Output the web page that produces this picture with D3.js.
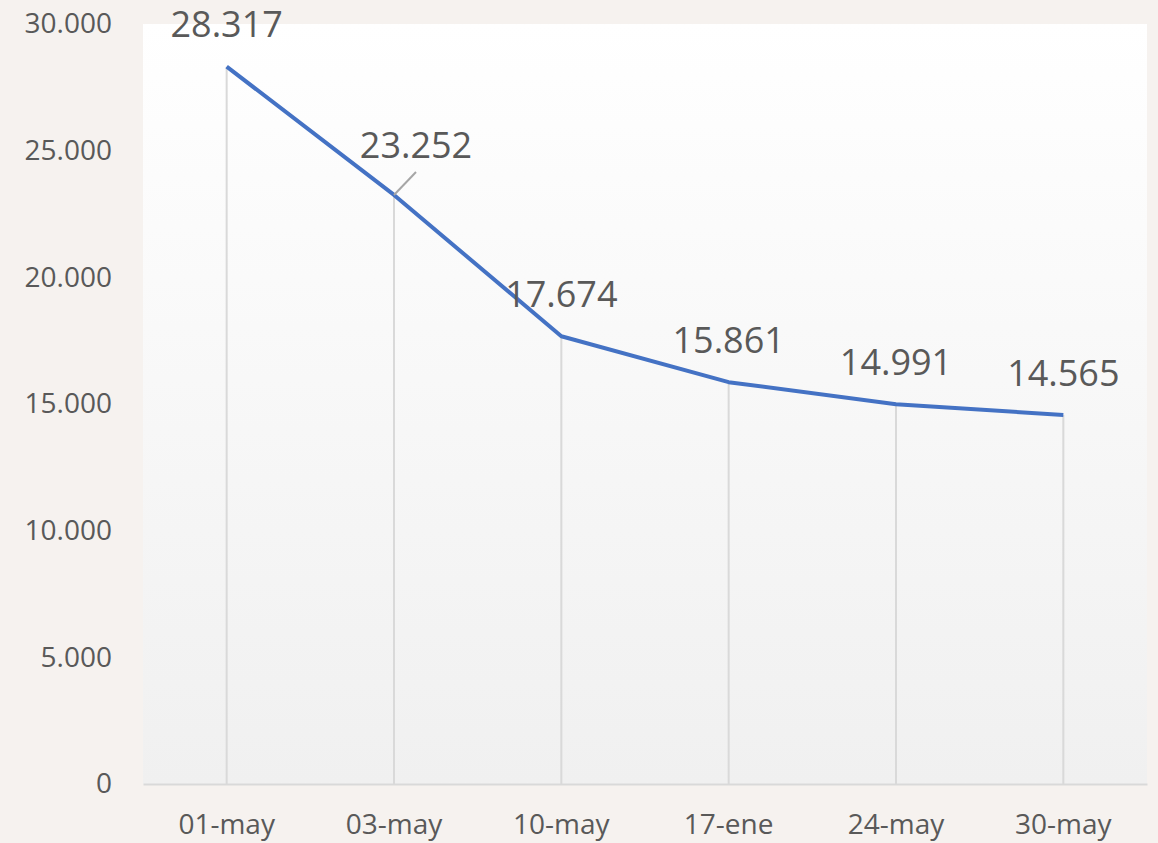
<!DOCTYPE html>
<html>
<head>
<meta charset="utf-8">
<script src="https://cdn.jsdelivr.net/npm/d3@7"></script>
<style>
  html, body { margin: 0; padding: 0; background: #f6f2ef; }
  svg { display: block; font-family: "Open Sans", sans-serif; }
</style>
</head>
<body>
<div id="chart"></div>
<script>
const categories = ["01-may", "03-may", "10-may", "17-ene", "24-may", "30-may"];
const values = [28317, 23252, 17674, 15861, 14991, 14565];
const yTicks = [0, 5000, 10000, 15000, 20000, 25000, 30000];

const W = 1158, H = 843;
const margin = {top: 24, right: 11, bottom: 59, left: 143};

const fmt = d3.formatLocale({decimal: ",", thousands: ".", grouping: [3], currency: ["", "€"]}).format(",d");

const svg = d3.select("#chart").append("svg")
  .attr("width", W)
  .attr("height", H);

svg.append("rect").attr("width", W).attr("height", H).attr("fill", "#f6f2ef");

const defs = svg.append("defs");
const grad = defs.append("linearGradient")
  .attr("id", "plotbg").attr("x1", 0).attr("y1", 0).attr("x2", 0).attr("y2", 1);
grad.append("stop").attr("offset", "0%").attr("stop-color", "#ffffff");
grad.append("stop").attr("offset", "100%").attr("stop-color", "#f0f0f0");

const x = d3.scaleBand()
  .domain(categories)
  .range([margin.left, W - margin.right]);

const y = d3.scaleLinear()
  .domain([0, 30000])
  .range([H - margin.bottom, margin.top]);

svg.append("rect")
  .attr("x", margin.left)
  .attr("y", margin.top)
  .attr("width", W - margin.left - margin.right)
  .attr("height", H - margin.top - margin.bottom)
  .attr("fill", "url(#plotbg)");

const cx = d => x(d) + x.bandwidth() / 2;
const pts = categories.map((c, i) => ({cat: c, val: values[i]}));

// drop lines
svg.selectAll("line.drop")
  .data(pts)
  .enter()
  .append("line")
  .attr("class", "drop")
  .attr("x1", p => cx(p.cat))
  .attr("x2", p => cx(p.cat))
  .attr("y1", p => y(p.val))
  .attr("y2", y(0))
  .attr("stroke", "#d9d9d9")
  .attr("stroke-width", 2);

// y axis
const yAxis = svg.append("g")
  .attr("transform", `translate(${margin.left},0)`)
  .call(d3.axisLeft(y).tickValues(yTicks).tickFormat(fmt).tickSize(0).tickPadding(31))
  .attr("font-family", null)
  .attr("font-size", null);
yAxis.select(".domain").remove();
yAxis.selectAll("text")
  .attr("fill", "#595959")
  .style("font-size", "28px");

// x axis
const xAxis = svg.append("g")
  .attr("transform", `translate(0,${y(0)})`)
  .call(d3.axisBottom(x).tickSize(0).tickPadding(30))
  .attr("font-family", null)
  .attr("font-size", null);
xAxis.select(".domain").attr("stroke", "#d9d9d9").attr("stroke-width", 2);
xAxis.selectAll("text")
  .attr("fill", "#595959")
  .style("font-size", "28px");

// line
const line = d3.line()
  .x(p => cx(p.cat))
  .y(p => y(p.val));

svg.append("path")
  .datum(pts)
  .attr("d", line)
  .attr("fill", "none")
  .attr("stroke", "#4472c4")
  .attr("stroke-width", 4)
  .attr("stroke-linejoin", "round");

// data labels (second label nudged with a leader line)
const nudge = {"03-may": {dx: 22, dy: -50}};

svg.selectAll("line.leader")
  .data(pts.filter(p => nudge[p.cat]))
  .enter()
  .append("line")
  .attr("class", "leader")
  .attr("x1", p => cx(p.cat))
  .attr("y1", p => y(p.val))
  .attr("x2", p => cx(p.cat) + nudge[p.cat].dx)
  .attr("y2", p => y(p.val) + nudge[p.cat].dy + 27)
  .attr("stroke", "#a6a6a6")
  .attr("stroke-width", 2);

svg.selectAll("text.lbl")
  .data(pts)
  .enter()
  .append("text")
  .attr("class", "lbl")
  .attr("x", p => cx(p.cat) + (nudge[p.cat] ? nudge[p.cat].dx : 0))
  .attr("y", p => y(p.val) + (nudge[p.cat] ? nudge[p.cat].dy : -42))
  .attr("text-anchor", "middle")
  .attr("dy", "0.35em")
  .attr("fill", "#595959")
  .style("font-size", "36px")
  .text(p => fmt(p.val));
</script>
</body>
</html>
